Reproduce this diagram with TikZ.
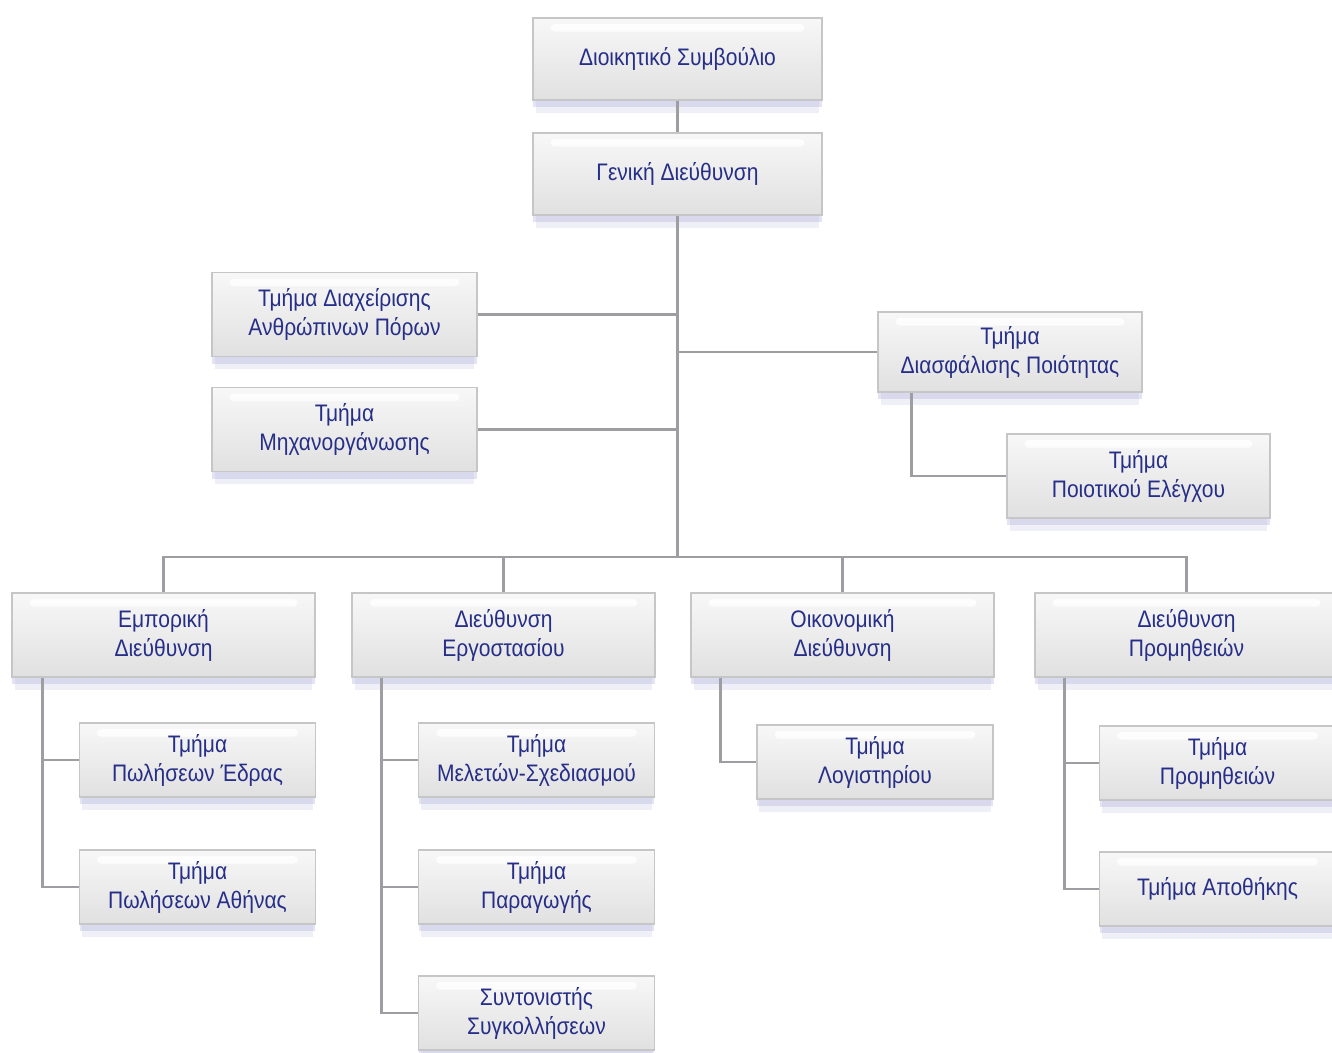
\documentclass[tikz,border=0pt]{standalone}
\usepackage{fontspec}
\setmainfont{Liberation Sans}[FakeStretch=0.88]
\usetikzlibrary{shadows}
\definecolor{orgtext}{RGB}{38,46,135}
\definecolor{orgline}{RGB}{158,158,162}
\definecolor{orgshadow}{RGB}{175,175,220}
\begin{document}
\begin{tikzpicture}
			[
				x                  = 0.02cm,
				y                  = -0.02cm,
				box/.style         = {rectangle, draw=gray!45, line width=0.7pt,
				                      top color=gray!6, bottom color=gray!24,
				                      text=orgtext, align=center,
				                      font=\fontsize{13.6}{16.5}\selectfont,
				                      drop shadow={shadow xshift=0pt, shadow yshift=-8pt, shadow scale=0.98,
				                                   fill=orgshadow, opacity=0.2},
				                      drop shadow={shadow xshift=0pt, shadow yshift=-4pt,
				                                   fill=orgshadow, opacity=0.35},
				                      path picture={\fill[white, opacity=0.8, rounded corners=0.08cm]
				                        ([xshift=0.35cm, yshift=-0.12cm]path picture bounding box.north west)
				                        rectangle ([xshift=-0.35cm, yshift=-0.27cm]path picture bounding box.north east);}},
				top/.style         = {box, minimum width=5.78cm, minimum height=1.64cm},
				staff/.style       = {box, minimum width=5.3cm, minimum height=1.68cm},
				dept/.style        = {box, minimum width=6.06cm, minimum height=1.68cm},
				unit/.style        = {box, minimum width=4.72cm, minimum height=1.48cm},
				link/.style        = {draw=orgline, line width=1.4pt}
			]
			\useasboundingbox (0,0) rectangle (1332,1052);
			\node [top] (board) at (677.5,59) {Διοικητικό Συμβούλιο};
			\node [top] (gm) at (677.5,174) {Γενική Διεύθυνση};
			\node [staff] (hr) at (344.5,314.5) {Τμήμα Διαχείρισης\\Ανθρώπινων Πόρων};
			\node [staff] (it) at (344.5,429.5) {Τμήμα\\Μηχανοργάνωσης};
			\node [staff, minimum width=5.28cm, minimum height=1.6cm] (qa) at (1010,352) {Τμήμα\\Διασφάλισης Ποιότητας};
			\node [staff, minimum width=5.26cm] (qc) at (1138.5,476) {Τμήμα\\Ποιοτικού Ελέγχου};
			\coordinate (bus) at (677.5,557);
			\node [dept] (sales) at (163.5,635) {Εμπορική\\Διεύθυνση};
			\node [dept] (plant) at (503.5,635) {Διεύθυνση\\Εργοστασίου};
			\node [dept] (fin) at (842.5,635) {Οικονομική\\Διεύθυνση};
			\node [dept] (supply) at (1186.5,635) {Διεύθυνση\\Προμηθειών};
			\node [unit] (seat) at (197.5,760) {Τμήμα\\Πωλήσεων Έδρας};
			\node [unit] (athens) at (197.5,887) {Τμήμα\\Πωλήσεων Αθήνας};
			\node [unit] (design) at (536.5,760) {Τμήμα\\Μελετών-Σχεδιασμού};
			\node [unit] (prod) at (536.5,887) {Τμήμα\\Παραγωγής};
			\node [unit] (weld) at (536.5,1013) {Συντονιστής\\Συγκολλήσεων};
			\node [unit] (acc) at (875,762) {Τμήμα\\Λογιστηρίου};
			\node [unit] (purch) at (1217.5,763) {Τμήμα\\Προμηθειών};
			\node [unit] (store) at (1217.5,889) {Τμήμα Αποθήκης};
			\begin{scope}[on background layer/.try]
			\draw [link] (board) -- (gm);
			\draw [link] (gm) -- (bus);
			\draw [link] (hr.east) -- (hr.east -| bus);
			\draw [link] (it.east) -- (it.east -| bus);
			\draw [link] (qa.west) -- (qa.west -| bus);
			\draw [link] ([xshift=0.68cm]qa.south west) |- (qc.west);
			\draw [link] (sales.north) |- (bus) -| (supply.north);
			\draw [link] (plant.north) -- (plant.north |- bus);
			\draw [link] (fin.north) -- (fin.north |- bus);
			\draw [link] ([xshift=0.62cm]sales.south west) |- (seat.west);
			\draw [link] ([xshift=0.62cm]sales.south west) |- (athens.west);
			\draw [link] ([xshift=0.6cm]plant.south west) |- (design.west);
			\draw [link] ([xshift=0.6cm]plant.south west) |- (prod.west);
			\draw [link] ([xshift=0.6cm]plant.south west) |- (weld.west);
			\draw [link] ([xshift=0.6cm]fin.south west) |- (acc.west);
			\draw [link] ([xshift=0.6cm]supply.south west) |- (purch.west);
			\draw [link] ([xshift=0.6cm]supply.south west) |- (store.west);
			\end{scope}
		\end{tikzpicture}
\end{document}
